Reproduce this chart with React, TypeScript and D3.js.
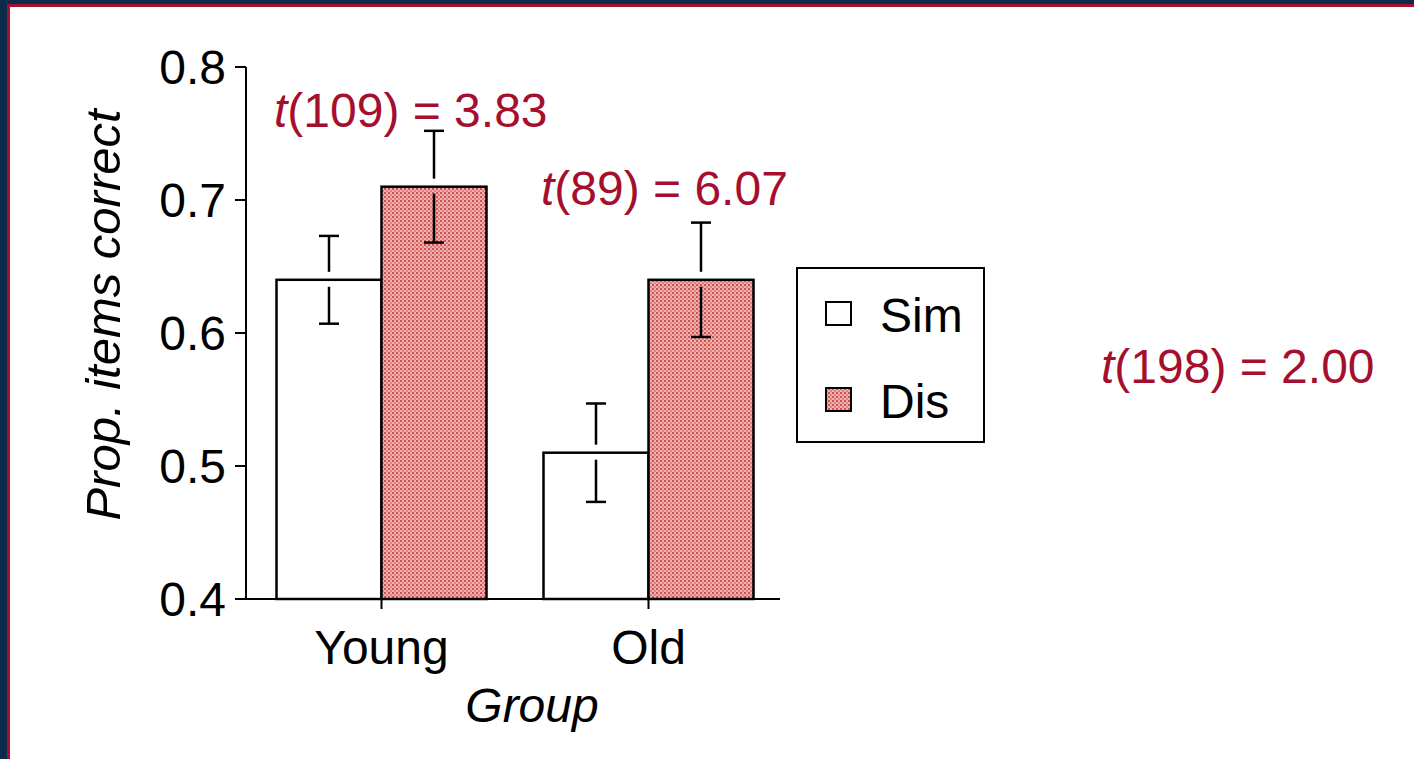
import React from "react";
import * as d3 from "d3";

const groups = ["Young", "Old"];
const series = ["Sim", "Dis"];
const means = [
  [0.64, 0.71],
  [0.51, 0.64],
];
const errs = [
  [0.033, 0.042],
  [0.037, 0.043],
];
const yTicks = [0.4, 0.5, 0.6, 0.7, 0.8];
const annotations = [
  { pre: "t", rest: "(109) = 3.83", x: 274, y: 127 },
  { pre: "t", rest: "(89) = 6.07", x: 541, y: 205 },
  { pre: "t", rest: "(198) = 2.00", x: 1101, y: 383 },
];

const W = 1414;
const H = 759;
const RED = "#a50f2d";
const FONT = "'Liberation Sans', Arial, sans-serif";

export default function App() {
  const y = d3.scaleLinear().domain([0.4, 0.8]).range([599, 67]);
  const x = d3.scaleBand().domain(groups).range([248, 782]).padding(0);
  const xs = d3.scaleBand().domain(series).range([-105, 105]).padding(0);
  const fills = ["#ffffff", "url(#dots)"];
  const fs = 48;

  return (
    <svg
      width={W}
      height={H}
      style={{ position: "fixed", left: 0, top: 0, background: "#fff" }}
    >
      <defs>
        <pattern id="dots" width="4" height="4" patternUnits="userSpaceOnUse">
          <rect width="4" height="4" fill="#eeb3b1" />
          <rect x="0" y="0" width="2" height="2" fill="#d2504e" />
          <rect x="2" y="2" width="2" height="2" fill="#e07f7d" />
        </pattern>
      </defs>
      {/* frame */}
      <rect x={0} y={0} width={W} height={4} fill="#0b2a4c" />
      <rect x={0} y={0} width={7} height={H} fill="#0b2a4c" />
      <rect x={7} y={4} width={W - 7} height={3} fill="#a8102e" />
      <rect x={7} y={4} width={3} height={H - 4} fill="#a8102e" />

      {/* bars */}
      {groups.map((g, gi) =>
        series.map((s, si) => {
          const cx = (x(g) as number) + x.bandwidth() / 2;
          const bx = cx + (xs(s) as number);
          const bw = xs.bandwidth();
          const m = means[gi][si];
          const e = errs[gi][si];
          const ec = bx + bw / 2;
          const top = y(m);
          return (
            <g key={g + s}>
              <rect
                x={bx}
                y={top}
                width={bw}
                height={y(0.4) - top}
                fill={fills[si]}
                stroke="#000"
                strokeWidth={2.5}
              />
              <line x1={ec} x2={ec} y1={y(m + e)} y2={top - 8} stroke="#000" strokeWidth={2.5} />
              <line x1={ec} x2={ec} y1={top + 7} y2={y(m - e)} stroke="#000" strokeWidth={2.5} />
              <line x1={ec - 10} x2={ec + 10} y1={y(m + e)} y2={y(m + e)} stroke="#000" strokeWidth={2.5} />
              <line x1={ec - 10} x2={ec + 10} y1={y(m - e)} y2={y(m - e)} stroke="#000" strokeWidth={2.5} />
            </g>
          );
        })
      )}

      {/* y axis */}
      <line x1={246} x2={246} y1={y(0.8)} y2={y(0.4)} stroke="#000" strokeWidth={2} />
      {yTicks.map((t) => (
        <g key={t}>
          <line x1={235} x2={246} y1={y(t)} y2={y(t)} stroke="#000" strokeWidth={2} />
          <text
            x={226}
            y={y(t)}
            dy="0.36em"
            textAnchor="end"
            fontFamily={FONT}
            fontSize={fs}
            fill="#000"
          >
            {t.toFixed(1)}
          </text>
        </g>
      ))}
      {/* x axis */}
      <line x1={235} x2={780} y1={y(0.4)} y2={y(0.4)} stroke="#000" strokeWidth={2} />
      {groups.map((g) => {
        const cx = (x(g) as number) + x.bandwidth() / 2;
        return (
          <g key={g}>
            <line x1={cx} x2={cx} y1={y(0.4)} y2={y(0.4) + 10} stroke="#000" strokeWidth={2} />
            <text
              x={cx}
              y={664}
              textAnchor="middle"
              fontFamily={FONT}
              fontSize={fs}
              fill="#000"
            >
              {g}
            </text>
          </g>
        );
      })}
      <text
        x={532}
        y={722}
        textAnchor="middle"
        fontFamily={FONT}
        fontSize={fs}
        fontStyle="italic"
        fill="#000"
      >
        Group
      </text>
      <text
        transform={`translate(120,${(y(0.8) + y(0.4)) / 2 - 18}) rotate(-90)`}
        textAnchor="middle"
        fontFamily={FONT}
        fontSize={49}
        fontStyle="italic"
        fill="#000"
      >
        Prop. items correct
      </text>

      {/* legend */}
      <rect x={797} y={268} width={187} height={174} fill="#fff" stroke="#000" strokeWidth={2} />
      {series.map((s, i) => (
        <g key={s}>
          <rect
            x={826}
            y={302 + i * 86}
            width={25}
            height={23}
            fill={fills[i]}
            stroke="#000"
            strokeWidth={2}
          />
          <text x={880} y={332 + i * 86} fontFamily={FONT} fontSize={fs} fill="#000">
            {s}
          </text>
        </g>
      ))}

      {/* annotations */}
      {annotations.map((a) => (
        <text key={a.rest} x={a.x} y={a.y} fontFamily={FONT} fontSize={fs} fill={RED}>
          <tspan fontStyle="italic">{a.pre}</tspan>
          {a.rest}
        </text>
      ))}
    </svg>
  );
}
